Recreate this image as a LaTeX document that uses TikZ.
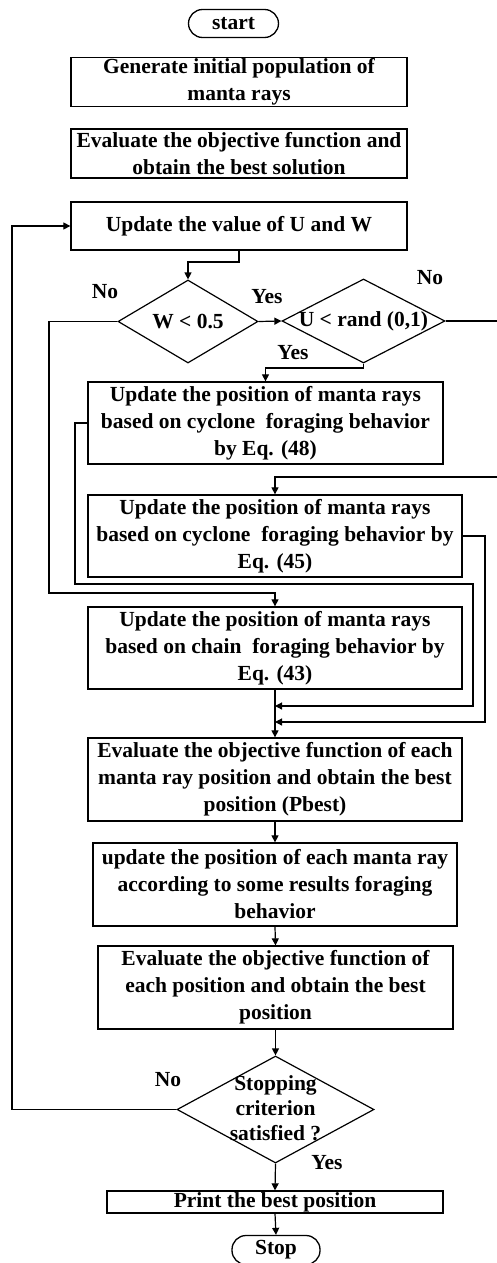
\documentclass[tikz,border=0pt]{standalone}
\usepackage{fontspec}
\setmainfont{Liberation Serif}
\usetikzlibrary{arrows.meta,shapes.geometric,calc}
\begin{document}
\begin{tikzpicture}[x=1pt,y=-1pt,
  every node/.style={font=\fontsize{21.5}{27}\selectfont\bfseries},
  box/.style={draw,line width=1.3pt,inner sep=0pt,align=center},
  term/.style={draw,line width=1.3pt,inner sep=0pt,rounded corners=14pt},
  dia/.style={draw,diamond,line width=1.2pt,inner sep=0pt},
  lab/.style={inner sep=0pt},
  conn/.style={line width=1.2pt},
  arr/.style={conn,-{Triangle[length=7pt,width=7pt]}}]
\useasboundingbox (0,0) rectangle (496,1263);
\fill[white] (0,0) rectangle (496,1263);
% nodes
\node[term,minimum width=90,minimum height=28] (start) at (233.5,23.5) {start};
\node[box,minimum width=336,minimum height=49] (b1) at (239,82) {Generate initial population of\\manta rays};
\node[box,minimum width=336,minimum height=49] (b2) at (239,153.5) {Evaluate the objective function and\\obtain the best solution};
\node[box,minimum width=336,minimum height=48] (b3) at (239,226) {Update the value of U and W};
\node[dia,minimum width=140,minimum height=83] (d1) at (188,321.5) {};
\node[lab] (d1t) at (d1) {W < 0.5};
\node[dia,minimum width=163,minimum height=84] (d2) at (363.5,321) {};
\node[lab] (d2t) at (d2) {U < rand (0,1)};
\node[box,minimum width=355,minimum height=82] (b4) at (265.5,423) {Update the position of manta rays\\based on cyclone\ \ foraging behavior\\by Eq. (48)};
\node[box,minimum width=374,minimum height=82] (b5) at (275,536) {Update the position of manta rays\\based on cyclone\ \ foraging behavior by\\Eq. (45)};
\node[box,minimum width=374,minimum height=82] (b6) at (275,648) {Update the position of manta rays\\based on chain\ \ foraging behavior by\\Eq. (43)};
\node[box,minimum width=374,minimum height=83] (b7) at (275,779.5) {Evaluate the objective function of each\\manta ray position and obtain the best\\position (Pbest)};
\node[box,minimum width=364,minimum height=83] (b8) at (275,884.5) {update the position of each manta ray\\according to some results foraging\\behavior};
\node[box,minimum width=355,minimum height=83] (b9) at (275.5,987.5) {Evaluate the objective function of\\each position and obtain the best\\position};
\node[dia,minimum width=197,minimum height=107] (d3) at (275.5,1109.5) {};
\node[lab,align=center,font=\fontsize{21.5}{25}\selectfont\bfseries] (d3t) at (275.5,1108) {Stopping\\criterion\\satisfied ?};
\node[box,minimum width=336,minimum height=22] (b10) at (275,1202) {Print the best position};
\node[term,minimum width=88,minimum height=29] (stop) at (276,1250) {Stop};
% labels
\node[lab] (l1) at (105,292) {No};
\node[lab] (l2) at (267,297) {Yes};
\node[lab] (l3) at (430,278) {No};
\node[lab] (l4) at (293,353) {Yes};
\node[lab] (l5) at (168,1080) {No};
\node[lab] (l6) at (327,1163) {Yes};
% coordinates
\coordinate (j1) at (275,706);
\coordinate (j2) at (275,722);
% connectors
\draw[arr] (b3.south -| 239,0) -- (239,262) -| (d1.north);
\draw[arr] (d1.east) -- (d2.west);
\draw[arr] (d2.south) -- (363.5,368) -| (b4.north);
\draw[arr] (d2.east) -- (500,321) -- (500,477) -| (b5.north);
\draw[arr] (b4.west) -- (75,423) -- (75,584) -- (473,584) -- (473,706) -- (j1);
\draw[arr] (b5.east) -- (485,536) -- (485,722) -- (j2);
\draw[arr] (d1.west) -- (49,321.5) -- (49,593) -| (b6.north);
\draw[arr] (b6.south) -- (b7.north);
\draw[arr] (b7.south) -- (b8.north);
\draw[arr] (b8.south) -- (b9.north);
\draw[arr] (b9.south) -- (d3.north);
\draw[arr] (d3.south) -- (b10.north);
\draw[arr] (b10.south) -- (stop.north);
\draw[arr] (d3.west) -- (12,1109.5) -- (12,226) -- (b3.west);
\end{tikzpicture}
\end{document}
